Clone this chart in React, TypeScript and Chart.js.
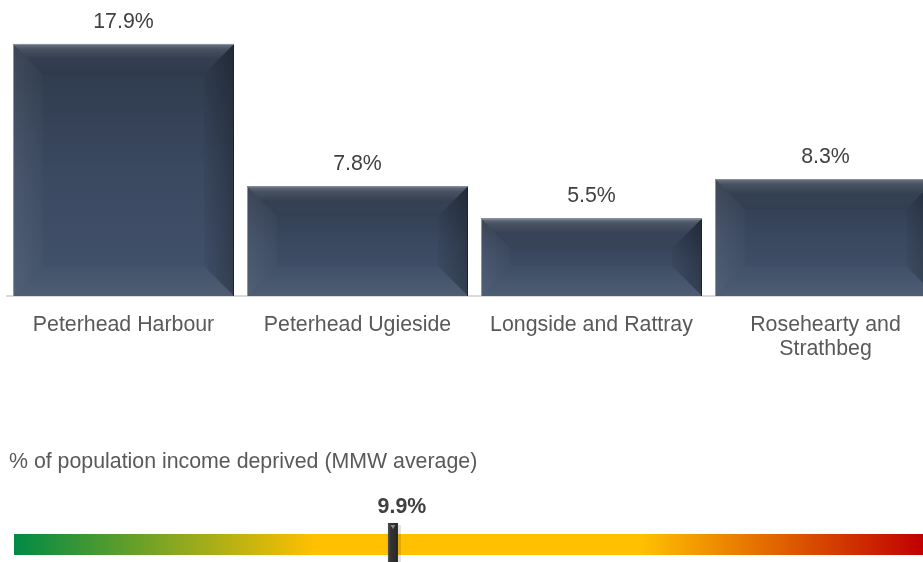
import React, { useEffect, useRef } from "react";
import { Chart, registerables } from "chart.js";

Chart.register(...registerables);

// ---- data ----
const categories: (string | string[])[] = [
  "Peterhead Harbour",
  "Peterhead Ugieside",
  "Longside and Rattray",
  ["Rosehearty and", "Strathbeg"],
];
const values: number[] = [17.9, 7.8, 5.5, 8.3];
const valueLabels: string[] = ["17.9%", "7.8%", "5.5%", "8.3%"];
const yMin = 0;
const yMax = 20;

const gaugeTitle = "% of population income deprived (MMW average)";
const gaugeMin = 0;
const gaugeMax = 23.75;
const averageValue = 9.9;
const averageLabel = "9.9%";

const FONT = "'Liberation Sans', Arial, Helvetica, sans-serif";
const FS = 21.33;

function poly(ctx: CanvasRenderingContext2D, pts: number[][]) {
  ctx.beginPath();
  ctx.moveTo(pts[0][0], pts[0][1]);
  for (let i = 1; i < pts.length; i++) ctx.lineTo(pts[i][0], pts[i][1]);
  ctx.closePath();
}

const bevelPlugin = {
  id: "bevelBars",
  afterDatasetsDraw(chart: any) {
    const ctx: CanvasRenderingContext2D = chart.ctx;
    const meta = chart.getDatasetMeta(0);
    meta.data.forEach((el: any, i: number) => {
      const { x, y, base, width } = el.getProps(["x", "y", "base", "width"], true);
      const L = x - width / 2;
      const R = x + width / 2;
      const T = Math.min(y, base);
      const B = Math.max(y, base);
      const w = R - L;
      const h = B - T;
      const d = Math.min(30, h / 2, w / 2);
      ctx.save();
      // face
      const g = ctx.createLinearGradient(0, T, 0, B);
      g.addColorStop(0, "#2d3849");
      g.addColorStop(0.5, "#3a4860");
      g.addColorStop(1, "#43536b");
      ctx.fillStyle = g;
      ctx.fillRect(L, T, w, h);
      // top bevel
      poly(ctx, [[L, T], [R, T], [R - d, T + d], [L + d, T + d]]);
      const gt = ctx.createLinearGradient(0, T, 0, T + d);
      gt.addColorStop(0, "rgba(255,255,255,0.30)");
      gt.addColorStop(0.18, "rgba(255,255,255,0.12)");
      gt.addColorStop(0.5, "rgba(255,255,255,0.02)");
      gt.addColorStop(1, "rgba(0,0,0,0.04)");
      ctx.fillStyle = gt;
      ctx.fill();
      // left bevel
      poly(ctx, [[L, T], [L + d, T + d], [L + d, B - d], [L, B]]);
      const gl = ctx.createLinearGradient(L, 0, L + d, 0);
      gl.addColorStop(0, "rgba(255,255,255,0.08)");
      gl.addColorStop(1, "rgba(255,255,255,0.015)");
      ctx.fillStyle = gl;
      ctx.fill();
      // right bevel
      poly(ctx, [[R, T], [R - d, T + d], [R - d, B - d], [R, B]]);
      const gr = ctx.createLinearGradient(R - d, 0, R, 0);
      gr.addColorStop(0, "rgba(0,0,0,0.04)");
      gr.addColorStop(1, "rgba(0,0,0,0.25)");
      ctx.fillStyle = gr;
      ctx.fill();
      // bottom bevel
      poly(ctx, [[L, B], [R, B], [R - d, B - d], [L + d, B - d]]);
      const gb = ctx.createLinearGradient(0, B - d, 0, B);
      gb.addColorStop(0, "rgba(255,255,255,0.015)");
      gb.addColorStop(1, "rgba(255,255,255,0.06)");
      ctx.fillStyle = gb;
      ctx.fill();
      // edges
      ctx.lineWidth = 1;
      ctx.strokeStyle = "#8a94a4";
      ctx.beginPath();
      ctx.moveTo(L + 0.5, B);
      ctx.lineTo(L + 0.5, T + 0.5);
      ctx.lineTo(R, T + 0.5);
      ctx.stroke();
      ctx.strokeStyle = "#1c2330";
      ctx.beginPath();
      ctx.moveTo(R - 0.5, T + 1);
      ctx.lineTo(R - 0.5, B);
      ctx.stroke();
      // value label
      ctx.fillStyle = "#404040";
      ctx.font = `${FS}px ${FONT}`;
      ctx.textAlign = "center";
      ctx.textBaseline = "middle";
      ctx.fillText(valueLabels[i], x, T - 22);
      ctx.restore();
    });
  },
};

const gaugePlugin = {
  id: "gaugeMarker",
  afterDatasetsDraw(chart: any) {
    const ctx: CanvasRenderingContext2D = chart.ctx;
    const area = chart.chartArea;
    const xs = chart.scales.x;
    const px = xs.getPixelForValue(averageValue);
    ctx.save();
    // title
    ctx.fillStyle = "#595959";
    ctx.font = `${FS}px ${FONT}`;
    ctx.textAlign = "left";
    ctx.textBaseline = "middle";
    ctx.fillText(gaugeTitle, 9, 22);
    // marker
    const top = area.top - 11;
    const bottom = chart.height;
    const mw = 10;
    const ml = px - mw / 2;
    ctx.fillStyle = "rgba(0,0,0,0.12)";
    ctx.fillRect(ml + mw, top + 2, 3, bottom - top);
    const mg = ctx.createLinearGradient(ml, 0, ml + mw, 0);
    mg.addColorStop(0, "#555555");
    mg.addColorStop(0.25, "#333333");
    mg.addColorStop(0.8, "#2b2b2b");
    mg.addColorStop(1, "#1a1a1a");
    ctx.fillStyle = mg;
    ctx.fillRect(ml, top, mw, bottom - top);
    ctx.fillStyle = "#8a8a8a";
    ctx.beginPath();
    ctx.moveTo(px - 2.5, top + 2);
    ctx.lineTo(px + 2.5, top + 2);
    ctx.lineTo(px, top + 6);
    ctx.closePath();
    ctx.fill();
    // label
    ctx.fillStyle = "#404040";
    ctx.font = `bold ${FS}px ${FONT}`;
    ctx.textAlign = "center";
    ctx.textBaseline = "middle";
    ctx.fillText(averageLabel, px + 9, area.top - 27);
    ctx.restore();
  },
};

export default function App() {
  const barRef = useRef<HTMLCanvasElement | null>(null);
  const gaugeRef = useRef<HTMLCanvasElement | null>(null);

  useEffect(() => {
    if (!barRef.current || !gaugeRef.current) return;
    const barChart = new Chart(barRef.current, {
      type: "bar",
      data: {
        labels: categories as any,
        datasets: [
          {
            data: values,
            backgroundColor: "#3a4860",
            borderWidth: 0,
            barPercentage: 1,
            categoryPercentage: 221 / 234,
          },
        ],
      },
      options: {
        responsive: false,
        animation: false,
        layout: { padding: { left: 6.5, right: 6.5, top: 14.4, bottom: 0 } },
        scales: {
          x: {
            grid: { display: false, drawTicks: false },
            border: { display: true, color: "#D9D9D9", width: 2 },
            ticks: {
              color: "#595959",
              font: { family: FONT, size: FS, lineHeight: 1.125 },
              padding: 17,
              maxRotation: 0,
              autoSkip: false,
            },
            afterFit: (s: any) => {
              s.height = 84;
            },
          },
          y: { display: false, min: yMin, max: yMax },
        },
        plugins: { legend: { display: false }, tooltip: { enabled: false } },
      } as any,
      plugins: [bevelPlugin],
    });

    const gaugeChart = new Chart(gaugeRef.current, {
      type: "bar",
      data: {
        labels: [""],
        datasets: [
          {
            data: [[gaugeMin, gaugeMax]] as any,
            backgroundColor: (c: any) => {
              const a = c.chart.chartArea;
              if (!a) return "#FFC000";
              const g = c.chart.ctx.createLinearGradient(a.left, 0, a.right, 0);
              g.addColorStop(0, "#008A45");
              g.addColorStop(0.33, "#FFC000");
              g.addColorStop(0.69, "#FFC000");
              g.addColorStop(1, "#C00000");
              return g;
            },
            borderWidth: 0,
            barPercentage: 1,
            categoryPercentage: 1,
          },
        ],
      },
      options: {
        indexAxis: "y",
        responsive: false,
        animation: false,
        layout: { padding: { left: 14, right: 0, top: 94, bottom: 7 } },
        scales: {
          x: { display: false, min: gaugeMin, max: gaugeMax },
          y: { display: false },
        },
        plugins: { legend: { display: false }, tooltip: { enabled: false } },
      } as any,
      plugins: [gaugePlugin],
    });

    return () => {
      barChart.destroy();
      gaugeChart.destroy();
    };
  }, []);

  return (
    <div
      style={{
        position: "absolute",
        left: 0,
        top: 0,
        width: 923,
        height: 562,
        overflow: "hidden",
        background: "#ffffff",
      }}
    >
      <canvas
        ref={barRef}
        width={949}
        height={380}
        style={{ position: "absolute", left: 0, top: 0, width: 949, height: 380 }}
      />
      <canvas
        ref={gaugeRef}
        width={923}
        height={122}
        style={{ position: "absolute", left: 0, top: 440, width: 923, height: 122 }}
      />
    </div>
  );
}
